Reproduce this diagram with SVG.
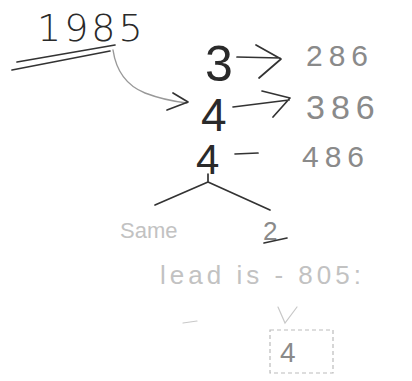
<svg xmlns="http://www.w3.org/2000/svg" width="412" height="381" viewBox="0 0 412 381">
<style>
.dark{font-family:"DejaVu Sans","Liberation Sans",sans-serif;font-weight:300;fill:#2a2a2a}
.mid{font-family:"Liberation Sans","DejaVu Sans",sans-serif;fill:#8a8a8a}
.faint{font-family:"Liberation Sans","DejaVu Sans",sans-serif;fill:#c2c2c2}
.ink{fill:none;stroke:#333;stroke-width:1.7;stroke-linecap:round;stroke-linejoin:round}
.soft{fill:none;stroke:#999;stroke-width:1.4;stroke-linecap:round;stroke-linejoin:round}
.pale{fill:none;stroke:#c8c8c8;stroke-width:1.2;stroke-linecap:round}
</style>
<rect width="412" height="381" fill="#fff"/>
<g id="year">
<text class="dark" x="37" y="41" font-size="38" letter-spacing="3" font-family="Liberation Sans" fill="#333">1985</text>
<path class="ink" d="M17 62 L115 45 M12 70 L110 51"/>
</g>
<g id="n3"><text class="mid" x="205" y="81" font-size="50" fill="#2a2a2a" style="fill:#2a2a2a">3</text></g>
<g id="v286"><text class="mid" x="306" y="66" font-size="30" letter-spacing="6">286</text></g>
<g id="n4a"><text class="mid" x="201" y="131" font-size="46" style="fill:#2a2a2a">4</text></g>
<g id="v386"><text class="mid" x="306" y="119" font-size="34" letter-spacing="6">386</text></g>
<g id="n4b"><text class="mid" x="196" y="174" font-size="42" style="fill:#2a2a2a">4</text></g>
<g id="v486"><text class="mid" x="302" y="167" font-size="30" letter-spacing="6">486</text></g>
<g id="same"><text class="faint" x="120" y="238" font-size="22">Same</text></g>
<g id="two">
<text class="mid" x="263" y="240" font-size="26">2</text>
<path class="ink" d="M264 243 L287 238"/>
</g>
<g id="lead"><text class="faint" x="160" y="284" font-size="26" letter-spacing="4">lead is - 805:</text></g>
<g id="result">
<rect x="270" y="330" width="63" height="43" fill="none" stroke="#bbb" stroke-width="1.2" stroke-dasharray="4 3"/>
<text class="mid" x="280" y="362" font-size="28">4</text>
</g>
<g id="connectors">
<path class="soft" d="M113 50 C116 70 125 85 145 93 C158 98 170 101 187 103"/>
<path class="ink" d="M173 93 L188 102 L167 110"/>
<path class="ink" d="M237 57 L280 58 M256 45 L281 59 L259 78"/>
<path class="ink" d="M233 107 L289 100 M262 91 L290 98 L273 117"/>
<path class="ink" d="M235 154 L258 153"/>
<path class="ink" d="M208 174 L208 182 M155 205 L208 182 L270 210"/>
<path class="pale" d="M183 323 L197 321"/>
<path class="pale" d="M278 307 L285 323 L297 307"/>
</g>
</svg>
